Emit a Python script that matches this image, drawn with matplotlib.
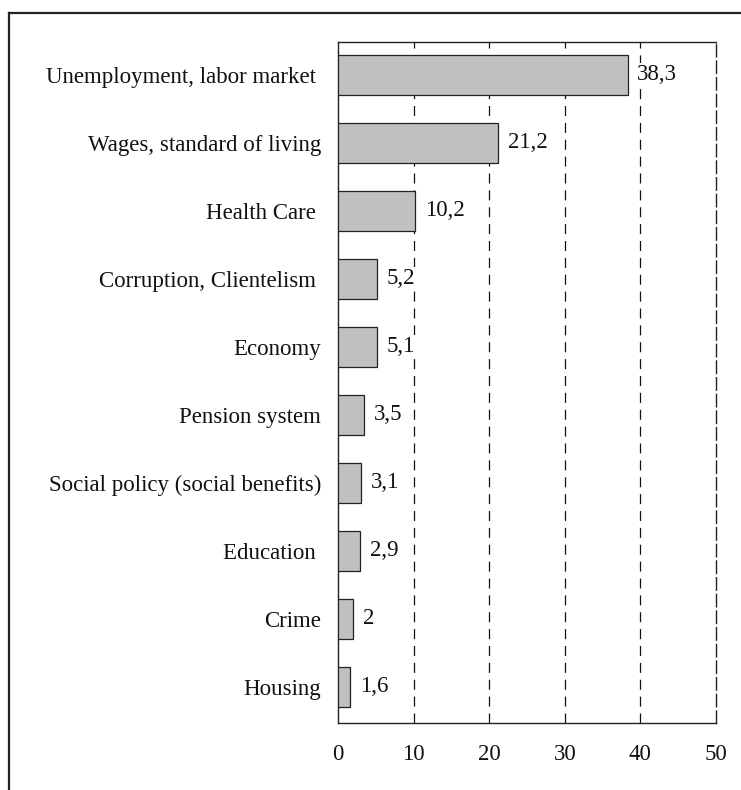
import matplotlib

matplotlib.use("Agg")
import matplotlib.pyplot as plt
from matplotlib.lines import Line2D

categories = [
    "Unemployment, labor market ",
    "Wages, standard of living",
    "Health Care ",
    "Corruption, Clientelism ",
    "Economy",
    "Pension system",
    "Social policy (social benefits)",
    "Education ",
    "Crime",
    "Housing",
]
values = [38.3, 21.2, 10.2, 5.2, 5.1, 3.5, 3.1, 2.9, 2.0, 1.6]
value_labels = ["38,3", "21,2", "10,2", "5,2", "5,1", "3,5", "3,1", "2,9", "2", "1,6"]
x_ticks = [0, 10, 20, 30, 40, 50]

plt.rcParams["font.family"] = ["Liberation Serif", "DejaVu Serif"]
plt.rcParams["font.size"] = 16.5

fig = plt.figure(figsize=(7.41, 7.90), dpi=100)
ax = fig.add_axes([338 / 741, 1 - 723 / 790, (716 - 338) / 741, (723 - 42) / 790])

pos = list(range(len(categories)))
ax.barh(pos, values, height=0.59, color="#c0c0c0", edgecolor="#222222", linewidth=0.9, zorder=3)
for p, v, lab in zip(pos, values, value_labels):
    # value labels sit on a white patch that hides the dashed grid behind them
    ax.annotate(lab, (v, p), xytext=(7, 0), textcoords="offset points",
                va="center", ha="left", color="#111111", zorder=4,
                bbox=dict(boxstyle="square,pad=0.05", fc="white", ec="none"))

ax.set_xlim(0, 50)
ax.set_ylim(9.53, -0.485)
ax.set_xticks(x_ticks)
ax.set_yticks(pos)
ax.set_yticklabels(categories)
ax.tick_params(axis="both", length=0, colors="#111111")
ax.tick_params(axis="x", pad=15)
ax.tick_params(axis="y", pad=12)

# dashed verticals at every major tick except 0
for t in x_ticks[1:-1]:
    ax.axvline(t, color="#111111", linestyle=(0, (8, 5.5)), linewidth=0.9, zorder=1)
for side in ("top", "bottom", "left"):
    ax.spines[side].set_linewidth(1.0)
    ax.spines[side].set_color("#222222")
ax.spines["right"].set_linestyle((0, (9, 3)))
ax.spines["right"].set_linewidth(1.0)
ax.spines["right"].set_color("#222222")

# outer frame: only top and left edges visible in the reference
fig.add_artist(Line2D([9 / 741, 1], [1 - 13 / 790] * 2, transform=fig.transFigure,
                      color="#222222", linewidth=1.6))
fig.add_artist(Line2D([9 / 741] * 2, [0, 1 - 13 / 790], transform=fig.transFigure,
                      color="#222222", linewidth=1.6))

fig.savefig("out.png", dpi=100, facecolor="white")
